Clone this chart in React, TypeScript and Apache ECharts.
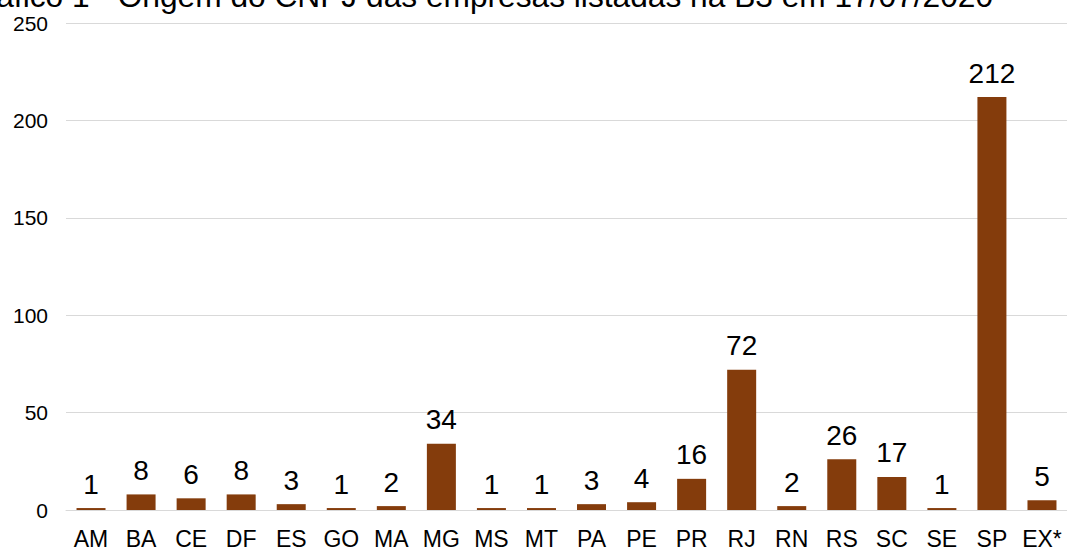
import React, { useEffect, useRef } from "react";
import * as echarts from "echarts";

const categories = ["AM", "BA", "CE", "DF", "ES", "GO", "MA", "MG", "MS", "MT", "PA", "PE", "PR", "RJ", "RN", "RS", "SC", "SE", "SP", "EX*"];
const values = [1, 8, 6, 8, 3, 1, 2, 34, 1, 1, 3, 4, 16, 72, 2, 26, 17, 1, 212, 5];
const titleText = "Gráfico 1 - Origem do CNPJ das empresas listadas na B3 em 17/07/2020";
const yTicks = { min: 0, max: 250, interval: 50 };

export default function App() {
  const ref = useRef<HTMLDivElement>(null);
  useEffect(() => {
    if (!ref.current) return;
    const chart = echarts.init(ref.current, undefined, { renderer: "svg" });
    const font = "'Liberation Sans', Arial, sans-serif";
    chart.setOption({
      animation: false,
      backgroundColor: "#ffffff",
      grid: { left: 66, right: 0, top: 23, bottom: 42, containLabel: false },
      graphic: [
        {
          type: "text",
          x: -39,
          y: 12,
          style: {
            text: titleText,
            fontSize: 31.7,
            fontFamily: font,
            fill: "#000000",
            align: "left",
            verticalAlign: "bottom",
          },
        },
      ],
      xAxis: {
        type: "category",
        data: categories,
        axisLine: { show: true, lineStyle: { color: "#d9d9d9", width: 1 } },
        axisTick: { show: false },
        axisLabel: { color: "#000000", fontSize: 23, fontFamily: font, margin: 17, interval: 0 },
      },
      yAxis: {
        type: "value",
        min: yTicks.min,
        max: yTicks.max,
        interval: yTicks.interval,
        axisLine: { show: false },
        axisTick: { show: false },
        splitLine: { show: true, lineStyle: { color: "#d9d9d9", width: 1 } },
        axisLabel: { color: "#000000", fontSize: 21, fontFamily: font, margin: 18 },
      },
      series: [
        {
          type: "bar",
          data: values,
          barWidth: 29,
          itemStyle: { color: "#843C0C" },
          label: {
            show: true,
            position: "top",
            distance: 10,
            color: "#000000",
            fontSize: 28,
            fontFamily: font,
          },
        },
      ],
    });
    return () => chart.dispose();
  }, []);
  return <div ref={ref} style={{ width: 1067, height: 552, position: "absolute", left: 0, top: 0 }} />;
}
